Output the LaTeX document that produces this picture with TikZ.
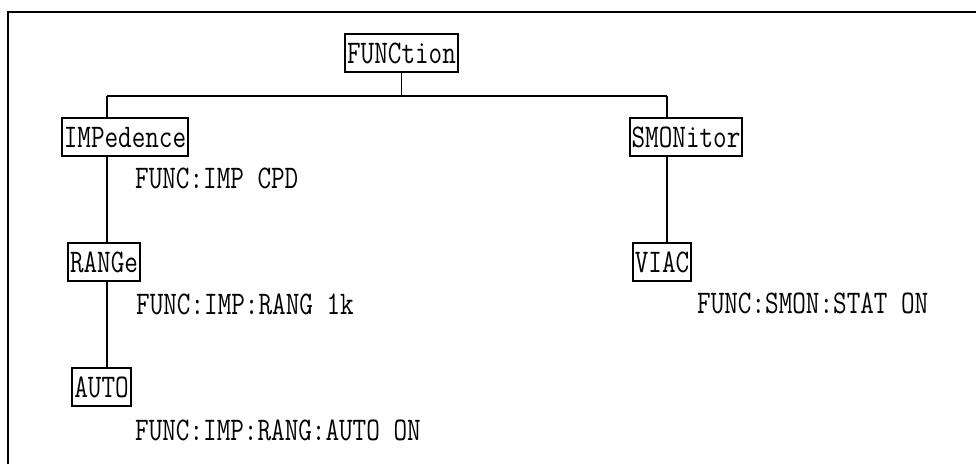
\documentclass[tikz,border=0pt]{standalone}
\usepackage{fontspec}
\setmonofont[FakeStretch=0.8]{Latin Modern Mono}
\begin{document}
\begin{tikzpicture}[x=1pt,y=-1pt,
  every node/.style={font=\ttfamily\fontsize{33}{33}\selectfont, text height=20pt, text depth=0pt},
  cmdbox/.style={draw, line width=2pt, inner xsep=2pt, inner ysep=9pt},
  lbl/.style={anchor=west, inner sep=0pt},
  conn/.style={line width=1.4pt},
  frame/.style={line width=2.2pt}]
\useasboundingbox (0,0) rectangle (976,464);
\draw[frame] (8,464) -- (8,12) -- (977,12);
\node[cmdbox] (fn) at (401.5,53) {FUNCtion};
\node[cmdbox] (imp) at (125,137) {IMPedence};
\node[cmdbox] (smon) at (686,137) {SMONitor};
\node[cmdbox] (rng) at (104,262) {RANGe};
\node[cmdbox] (viac) at (662,262) {VIAC};
\node[cmdbox] (auto) at (101.5,387) {AUTO};
\node[lbl] (t1) at (135,178.5) {FUNC:IMP CPD};
\node[lbl] (t2) at (136,304.5) {FUNC:IMP:RANG 1k};
\node[lbl] (t3) at (135,430) {FUNC:IMP:RANG:AUTO ON};
\node[lbl] (t4) at (697,303.5) {FUNC:SMON:STAT ON};
\coordinate (jt) at (401.5,96);
\coordinate (jl) at (107,96);
\coordinate (jr) at (667,96);
\draw[conn] (fn.south) -- (jt);
\draw[conn] (jl) -- (jr);
\draw[conn] (jl) -- (jl |- imp.north);
\draw[conn] (jr) -- (jr |- smon.north);
\draw[conn] (imp.south -| jl) -- (rng.north -| jl);
\draw[conn] (rng.south -| jl) -- (auto.north -| jl);
\draw[conn] (smon.south -| jr) -- (viac.north -| jr);
\end{tikzpicture}
\end{document}
